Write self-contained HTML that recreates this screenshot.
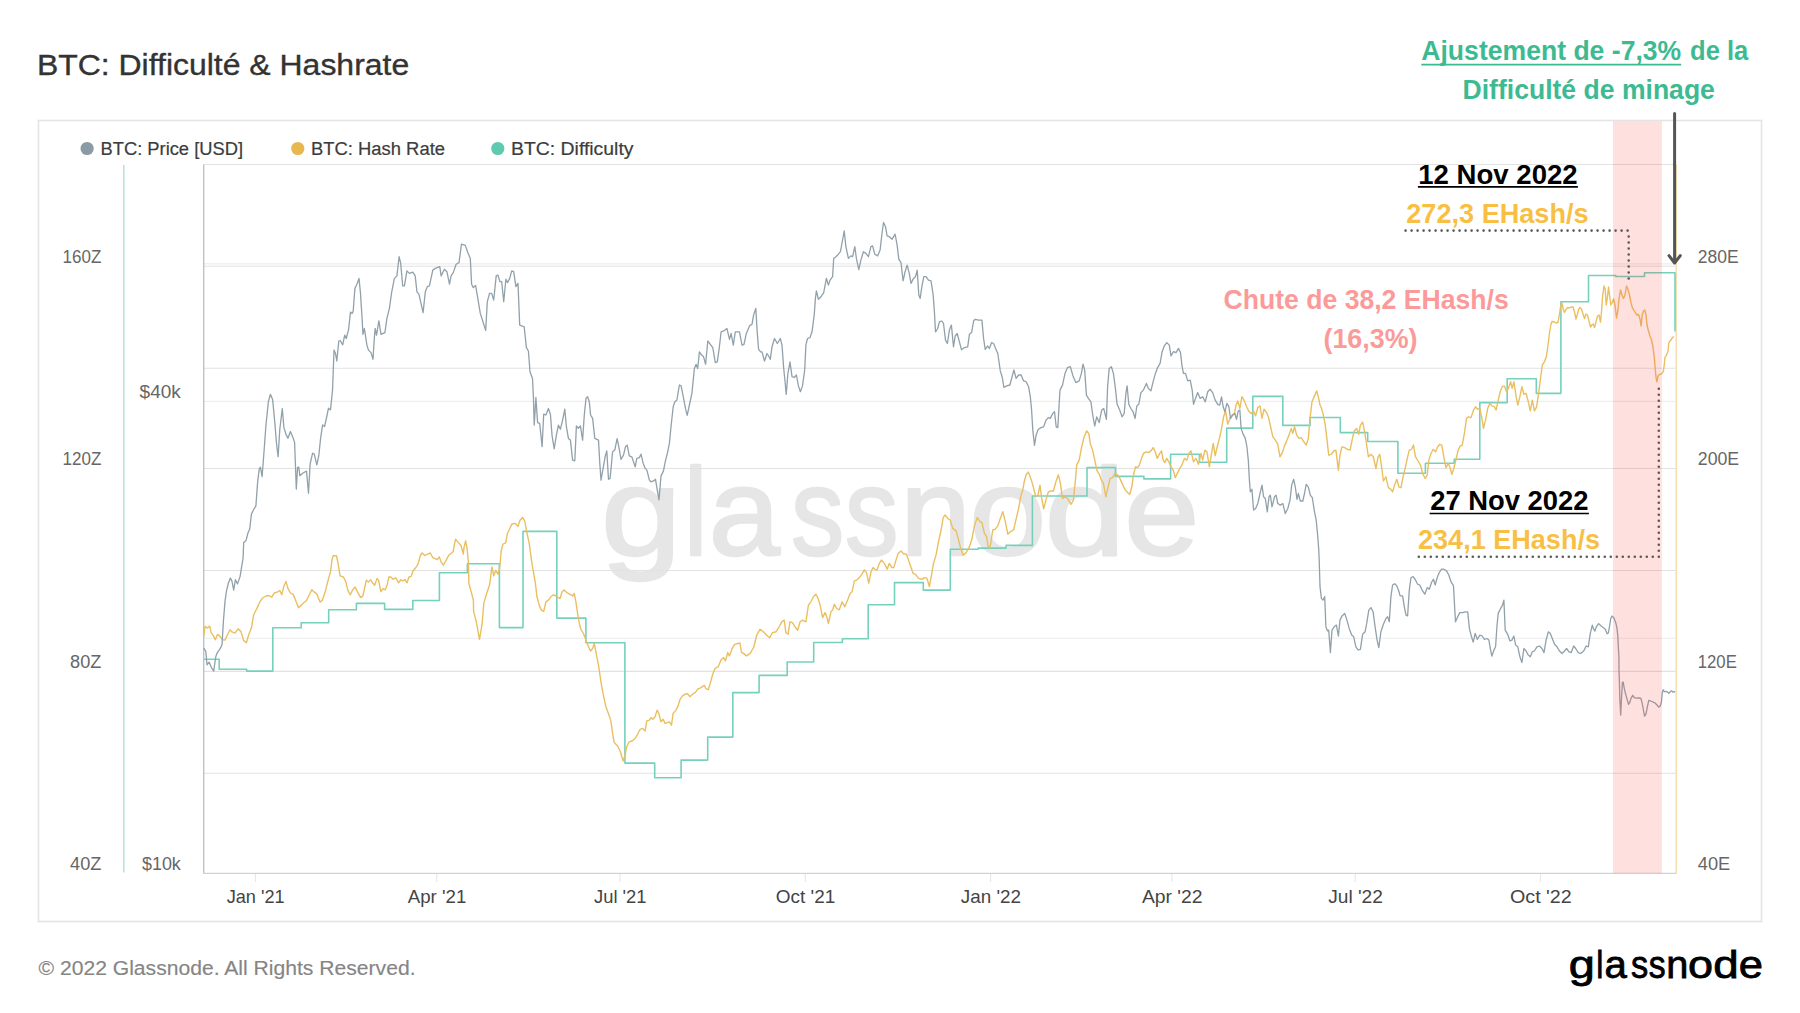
<!DOCTYPE html>
<html lang="fr"><head><meta charset="utf-8"><title>BTC: Difficulté &amp; Hashrate</title>
<style>html,body{margin:0;padding:0;background:#fff;}body{width:1800px;height:1013px;overflow:hidden;font-family:"Liberation Sans",sans-serif;}svg{display:block;}text{font-family:"Liberation Sans",sans-serif;}</style>
</head><body>
<svg width="1800" height="1013" viewBox="0 0 1800 1013">
<rect x="0" y="0" width="1800" height="1013" fill="#fff"/>
<rect x="38.5" y="120.5" width="1723" height="801" fill="none" stroke="#e4e4e4" stroke-width="1.6"/>
<text aria-label="glassnode" y="555" font-size="124" fill="#e6e6e6" stroke="#e6e6e6" stroke-width="2.4" stroke-linejoin="round"><tspan x="600.92" textLength="80.40" lengthAdjust="spacingAndGlyphs">g</tspan><tspan x="683.90" textLength="23.33" lengthAdjust="spacingAndGlyphs">l</tspan><tspan x="708.88" textLength="71.12" lengthAdjust="spacingAndGlyphs">a</tspan><tspan x="791.07" textLength="53.22" lengthAdjust="spacingAndGlyphs">s</tspan><tspan x="844.75" textLength="53.78" lengthAdjust="spacingAndGlyphs">s</tspan><tspan x="900.29" textLength="70.53" lengthAdjust="spacingAndGlyphs">n</tspan><tspan x="969.16" textLength="77.05" lengthAdjust="spacingAndGlyphs">o</tspan><tspan x="1044.72" textLength="80.40" lengthAdjust="spacingAndGlyphs">d</tspan><tspan x="1124.30" textLength="75.08" lengthAdjust="spacingAndGlyphs">e</tspan></text>
<line x1="203.5" y1="164.5" x2="1675.5" y2="164.5" stroke="#e2e2e2" stroke-width="1.1"/>
<line x1="203.5" y1="266.3" x2="1675.5" y2="266.3" stroke="#e2e2e2" stroke-width="1.1"/>
<line x1="203.5" y1="368.2" x2="1675.5" y2="368.2" stroke="#e2e2e2" stroke-width="1.1"/>
<line x1="203.5" y1="468.5" x2="1675.5" y2="468.5" stroke="#e2e2e2" stroke-width="1.1"/>
<line x1="203.5" y1="570.5" x2="1675.5" y2="570.5" stroke="#e2e2e2" stroke-width="1.1"/>
<line x1="203.5" y1="671.4" x2="1675.5" y2="671.4" stroke="#e2e2e2" stroke-width="1.1"/>
<line x1="203.5" y1="773.3" x2="1675.5" y2="773.3" stroke="#e2e2e2" stroke-width="1.1"/>
<line x1="203.5" y1="263.9" x2="1675.5" y2="263.9" stroke="#ededed" stroke-width="1.1"/>
<line x1="203.5" y1="401.4" x2="1675.5" y2="401.4" stroke="#ededed" stroke-width="1.1"/>
<line x1="203.5" y1="638.3" x2="1675.5" y2="638.3" stroke="#ededed" stroke-width="1.1"/>
<line x1="255.4" y1="873" x2="255.4" y2="882" stroke="#e6e6e6" stroke-width="1.1"/>
<line x1="436.7" y1="873" x2="436.7" y2="882" stroke="#e6e6e6" stroke-width="1.1"/>
<line x1="620.0" y1="873" x2="620.0" y2="882" stroke="#e6e6e6" stroke-width="1.1"/>
<line x1="805.3" y1="873" x2="805.3" y2="882" stroke="#e6e6e6" stroke-width="1.1"/>
<line x1="990.6" y1="873" x2="990.6" y2="882" stroke="#e6e6e6" stroke-width="1.1"/>
<line x1="1171.9" y1="873" x2="1171.9" y2="882" stroke="#e6e6e6" stroke-width="1.1"/>
<line x1="1355.2" y1="873" x2="1355.2" y2="882" stroke="#e6e6e6" stroke-width="1.1"/>
<line x1="1540.5" y1="873" x2="1540.5" y2="882" stroke="#e6e6e6" stroke-width="1.1"/>
<line x1="123.8" y1="165" x2="123.8" y2="872.6" stroke="#a9e2d6" stroke-width="1.4"/>
<line x1="203.7" y1="164.5" x2="203.7" y2="873.4" stroke="#b9c3c9" stroke-width="1.4"/>
<line x1="203" y1="873.3" x2="1676.5" y2="873.3" stroke="#cfd3d6" stroke-width="1.3"/>
<line x1="1676.2" y1="164.5" x2="1676.2" y2="873.4" stroke="#f4dba6" stroke-width="1.4"/>
<path d="M203.7,659.3 H219.2 V669.3 H246.7 V671.1 H272.8 V627.8 H301.2 V622.7 H328.7 V609.7 H356.4 V603.4 H384.6 V609.4 H412.8 V600.5 H439.4 V572.7 H467.4 V563.8 H499.4 V627.6 H523.0 V531.4 H556.8 V618.1 H585.9 V642.7 H624.9 V763.1 H654.7 V777.7 H681.1 V760.1 H707.7 V737.1 H732.8 V692.6 H759.1 V675.4 H787.2 V662.0 H813.7 V642.5 H842.4 V638.8 H868.2 V604.8 H894.5 V582.6 H923.3 V590.1 H950.3 V549.2 H978.2 V548.1 H1006.1 V545.4 H1032.4 V496.0 H1087.0 V467.6 H1115.5 V476.4 H1143.9 V478.9 H1170.6 V454.2 H1199.4 V462.3 H1226.7 V428.1 H1252.8 V396.4 H1282.8 V425.4 H1310.1 V417.5 H1340.3 V432.6 H1367.7 V441.5 H1397.9 V473.2 H1425.4 V463.2 H1454.2 V459.3 H1479.8 V402.6 H1507.2 V378.7 H1536.3 V393.4 H1560.9 V301.8 H1588.5 V275.5 H1615.8 V276.5 H1644.5 V272.8 H1675 V331.5" fill="none" stroke="#76d1bc" stroke-width="1.6" stroke-linejoin="round"/>
<path d="M203.7,636.4 L205.0,626.4 L207.5,628.1 L209.7,626.1 L211.3,633.1 L213.3,635.6 L215.3,639.8 L217.5,634.4 L220.0,636.4 L222.5,639.8 L225.0,640.1 L227.5,634.8 L230.0,629.8 L232.5,632.2 L235.0,633.1 L238.0,628.9 L240.9,631.4 L243.7,640.6 L246.4,642.8 L248.7,634.8 L251.4,628.1 L253.7,614.7 L256.7,608.9 L259.7,602.2 L262.6,598.0 L265.9,596.0 L268.8,595.5 L271.8,597.2 L274.2,593.0 L277.1,592.2 L279.8,590.5 L281.8,594.7 L283.8,586.4 L285.9,581.4 L288.1,588.9 L290.4,593.0 L293.1,594.4 L295.4,599.7 L298.4,607.7 L300.9,605.6 L303.4,603.0 L306.5,600.5 L309.3,594.7 L311.8,589.7 L314.3,592.2 L316.8,593.9 L320.0,602.1 L322.2,600.4 L325.0,592.6 L327.8,581.4 L330.6,571.4 L332.1,559.1 L333.2,555.8 L336.5,555.8 L337.9,562.5 L340.1,575.9 L343.4,577.0 L345.7,581.4 L347.9,590.4 L350.3,594.8 L352.4,590.4 L355.1,587.0 L357.9,592.6 L360.7,597.6 L362.9,595.9 L364.6,588.1 L366.3,580.3 L368.5,582.0 L370.8,579.8 L372.4,582.5 L374.7,585.3 L376.9,578.6 L378.6,580.3 L380.8,591.5 L383.0,588.7 L385.2,589.8 L386.9,585.9 L388.9,577.0 L390.8,577.0 L393.1,579.2 L395.9,577.9 L398.6,582.8 L400.9,579.8 L403.1,580.9 L404.8,579.4 L407.0,582.8 L409.0,577.0 L411.2,576.4 L413.1,570.8 L415.9,567.5 L418.2,563.6 L420.4,555.2 L422.1,553.0 L424.9,555.5 L427.6,554.1 L430.4,553.0 L432.7,557.5 L434.9,558.6 L437.1,559.7 L439.4,556.9 L441.0,561.9 L443.3,565.2 L445.5,561.4 L448.8,555.2 L451.6,553.0 L453.3,551.3 L454.4,544.6 L455.5,539.3 L458.3,542.4 L461.1,545.7 L463.3,554.1 L464.1,546.9 L465.6,541.0 L467.0,548.0 L468.4,562.5 L468.9,583.7 L471.1,591.5 L473.4,600.4 L473.6,611.4 L476.2,621.4 L479.5,639.4 L482.0,624.7 L483.7,604.7 L484.0,602.6 L486.2,594.8 L489.6,584.8 L491.2,572.5 L492.0,566.9 L493.8,575.9 L495.7,570.3 L497.9,574.2 L499.8,566.9 L501.3,550.2 L502.9,544.1 L505.7,542.9 L507.4,533.5 L509.6,529.0 L511.9,524.0 L515.2,523.4 L518.0,526.2 L520.0,520.1 L520.4,520.0 L522.5,517.5 L524.7,520.9 L526.7,531.7 L529.2,543.4 L531.7,561.7 L533.7,573.4 L535.4,583.4 L537.0,596.8 L539.2,605.1 L541.4,610.1 L543.7,611.5 L545.9,601.8 L548.4,600.1 L550.9,596.8 L553.4,594.8 L555.9,596.0 L558.4,597.6 L560.1,598.5 L562.1,591.8 L564.2,590.1 L566.8,592.6 L570.1,594.3 L572.6,596.0 L574.3,593.4 L575.9,601.8 L577.6,613.5 L579.3,623.5 L580.9,629.3 L583.4,633.5 L586.0,640.2 L588.5,646.8 L590.5,651.0 L592.6,648.5 L594.3,643.5 L596.5,655.2 L598.5,665.2 L600.9,681.7 L603.0,693.4 L605.9,706.7 L608.4,713.4 L610.9,720.9 L612.6,733.4 L614.2,742.6 L617.6,746.0 L620.1,751.0 L623.1,761.0 L625.1,755.1 L626.7,746.8 L629.2,741.8 L632.1,741.0 L635.1,738.5 L637.6,734.3 L640.1,729.3 L642.6,728.4 L645.1,730.9 L646.8,720.9 L649.3,720.1 L650.9,717.6 L652.6,719.3 L655.1,716.8 L657.1,710.1 L658.8,713.4 L661.0,721.8 L663.1,719.3 L665.1,723.4 L667.6,722.6 L669.3,721.8 L671.5,725.1 L673.1,713.4 L676.0,710.1 L678.1,705.9 L680.1,699.2 L682.6,695.9 L685.1,694.2 L687.6,693.7 L689.8,696.7 L692.6,694.2 L695.2,692.6 L697.7,689.2 L701.0,687.6 L704.3,685.4 L706.0,688.7 L708.2,689.7 L710.2,683.4 L712.7,674.2 L715.2,668.4 L718.2,666.7 L721.0,660.0 L723.5,657.5 L725.5,660.9 L727.7,652.5 L729.4,655.9 L731.9,649.2 L734.4,644.7 L736.9,643.7 L739.9,643.0 L741.5,652.5 L743.5,653.4 L746.5,655.9 L750.2,653.4 L753.6,647.5 L755.6,640.0 L756.7,635.2 L760.0,629.3 L763.4,631.8 L766.7,635.2 L769.7,637.7 L772.5,632.7 L775.9,631.8 L779.2,626.8 L781.7,621.8 L784.2,620.1 L785.9,632.7 L788.0,634.3 L790.0,621.8 L792.5,622.6 L795.0,626.8 L797.6,630.2 L800.1,621.8 L802.6,620.1 L805.9,621.8 L808.4,605.1 L810.9,601.8 L813.4,596.8 L815.9,594.3 L818.1,598.5 L820.1,605.1 L822.6,617.6 L825.1,612.6 L826.8,616.8 L828.4,623.5 L830.9,611.8 L832.6,610.1 L834.3,604.3 L836.8,608.5 L839.3,609.8 L842.1,601.8 L844.8,606.8 L847.6,600.1 L850.1,593.5 L852.1,591.8 L854.3,580.9 L856.8,580.1 L859.3,577.6 L861.8,574.3 L864.3,569.8 L866.5,572.6 L868.8,583.1 L871.0,571.8 L873.1,567.6 L875.1,569.3 L877.1,570.1 L879.3,563.4 L881.5,560.1 L884.3,563.4 L887.2,569.3 L889.3,563.4 L891.8,567.6 L893.8,567.6 L896.0,560.1 L898.2,553.4 L901.0,550.9 L903.5,553.7 L906.5,554.2 L908.5,560.1 L910.5,565.9 L913.2,573.4 L915.5,574.3 L918.5,578.4 L921.9,579.3 L924.4,577.6 L926.9,578.1 L929.4,586.5 L931.5,575.1 L933.5,563.4 L936.0,555.1 L938.5,541.7 L941.1,530.0 L943.2,517.5 L945.2,515.0 L947.7,518.4 L950.2,520.0 L952.7,528.4 L956.1,530.9 L958.6,540.1 L960.6,548.4 L963.2,555.1 L966.1,552.6 L969.4,546.7 L971.9,539.2 L974.4,525.9 L977.3,517.5 L979.9,521.7 L981.9,522.5 L984.4,533.4 L986.6,536.7 L988.3,547.6 L990.3,545.9 L992.8,530.0 L995.3,529.2 L997.8,525.9 L1000.3,518.4 L1002.8,511.7 L1005.3,521.7 L1007.8,534.2 L1010.3,531.7 L1013.6,530.0 L1016.1,519.2 L1018.6,508.4 L1021.1,495.0 L1022.8,490.0 L1024.2,481.8 L1026.3,474.3 L1028.3,472.1 L1030.8,478.4 L1033.3,486.8 L1035.8,496.8 L1038.0,495.1 L1040.0,485.1 L1041.7,498.5 L1043.7,508.8 L1045.9,500.1 L1048.4,491.8 L1050.9,491.0 L1053.4,491.0 L1055.9,481.8 L1058.4,474.8 L1060.4,483.4 L1062.5,498.5 L1065.0,496.8 L1067.6,498.5 L1070.9,504.3 L1073.4,500.1 L1075.4,480.1 L1076.7,465.1 L1079.2,460.1 L1081.7,446.7 L1084.2,436.7 L1086.7,430.9 L1088.8,433.4 L1090.4,444.2 L1092.6,450.1 L1094.8,460.1 L1096.8,470.1 L1099.3,474.3 L1101.4,480.1 L1103.4,483.4 L1105.9,496.8 L1108.1,486.8 L1110.1,478.4 L1112.6,477.6 L1114.8,473.4 L1117.1,474.3 L1119.8,478.4 L1122.1,483.4 L1124.8,489.3 L1127.6,492.6 L1129.8,494.3 L1131.8,486.8 L1133.5,475.1 L1135.5,466.8 L1137.6,467.6 L1139.3,465.1 L1141.5,458.4 L1143.5,453.4 L1146.0,451.8 L1148.5,452.6 L1151.0,450.9 L1153.2,447.6 L1155.2,451.8 L1157.2,458.4 L1159.8,453.4 L1161.5,450.9 L1163.2,460.1 L1164.8,462.6 L1166.8,458.4 L1168.8,461.8 L1171.0,466.8 L1173.2,470.1 L1175.2,477.6 L1177.7,472.6 L1179.8,468.4 L1181.9,465.1 L1184.4,458.4 L1186.9,460.1 L1188.9,453.4 L1191.0,450.9 L1193.5,461.8 L1196.0,458.4 L1198.5,464.3 L1201.0,453.4 L1202.7,460.1 L1204.9,450.1 L1206.9,451.8 L1209.4,466.8 L1211.6,453.4 L1213.2,443.4 L1215.2,455.9 L1217.2,446.7 L1219.4,438.4 L1221.6,428.4 L1223.6,416.7 L1225.6,410.9 L1227.7,424.2 L1229.9,418.4 L1231.9,415.0 L1234.4,413.4 L1236.1,405.0 L1237.8,400.9 L1239.9,408.4 L1241.9,396.7 L1244.4,400.9 L1246.6,406.7 L1248.6,410.9 L1251.1,413.4 L1253.6,410.9 L1255.6,415.9 L1257.8,407.5 L1260.0,405.9 L1262.0,418.4 L1264.0,409.2 L1266.6,412.5 L1268.6,417.5 L1270.6,426.7 L1272.8,436.7 L1275.3,440.1 L1277.8,444.2 L1280.0,456.8 L1282.3,452.6 L1284.5,445.9 L1287.0,440.1 L1289.0,435.1 L1291.2,428.4 L1292.8,433.4 L1294.5,426.7 L1296.7,435.1 L1299.0,438.4 L1301.2,437.6 L1303.7,441.7 L1306.2,445.1 L1308.3,438.4 L1310.0,418.4 L1312.0,401.7 L1314.5,395.9 L1316.7,390.9 L1318.7,398.4 L1320.0,405.0 L1320.9,406.8 L1323.0,413.4 L1325.0,423.4 L1326.7,436.8 L1328.7,455.1 L1331.4,454.3 L1333.7,451.0 L1335.9,450.1 L1338.4,470.2 L1340.0,455.1 L1342.0,446.8 L1344.7,447.6 L1347.6,449.3 L1350.1,450.1 L1352.1,440.1 L1354.2,430.9 L1356.7,428.4 L1358.7,434.3 L1360.4,425.1 L1362.6,422.1 L1364.7,431.8 L1366.4,443.5 L1368.4,456.8 L1370.9,454.3 L1373.4,456.8 L1375.9,468.5 L1378.1,456.8 L1379.8,454.3 L1381.8,468.5 L1383.4,481.0 L1385.9,476.8 L1388.4,487.7 L1390.9,489.4 L1392.6,491.9 L1394.8,484.4 L1396.8,479.3 L1398.8,486.9 L1401.0,487.7 L1403.1,476.8 L1405.5,466.8 L1407.6,456.8 L1409.3,450.1 L1411.5,449.3 L1413.5,445.1 L1415.5,456.8 L1418.1,461.0 L1420.5,465.2 L1422.6,473.5 L1425.2,478.5 L1427.2,475.2 L1428.8,460.1 L1431.0,453.5 L1433.2,449.3 L1435.5,451.8 L1437.7,446.8 L1439.8,444.3 L1441.8,445.1 L1443.8,456.8 L1446.0,467.7 L1448.2,463.5 L1449.8,466.8 L1451.8,474.3 L1453.8,468.5 L1456.0,459.3 L1458.2,450.1 L1460.2,446.0 L1462.2,445.1 L1464.4,433.4 L1466.5,418.4 L1468.5,416.8 L1471.0,417.6 L1473.5,410.1 L1475.5,406.8 L1477.7,409.3 L1479.9,408.4 L1481.9,418.4 L1483.5,428.4 L1485.5,420.1 L1487.7,408.4 L1489.9,403.4 L1491.9,405.9 L1494.4,406.8 L1496.1,410.1 L1498.2,400.1 L1500.2,391.7 L1502.2,386.7 L1504.4,385.9 L1506.6,391.7 L1508.6,387.6 L1510.6,381.7 L1512.2,388.4 L1513.9,381.7 L1516.1,396.7 L1517.8,405.1 L1519.9,396.7 L1521.9,386.7 L1523.9,394.2 L1526.1,393.4 L1528.3,401.8 L1530.3,410.9 L1532.3,400.1 L1534.4,410.9 L1536.6,406.8 L1538.6,393.4 L1540.3,380.1 L1542.3,365.0 L1544.5,361.7 L1546.5,356.0 L1548.0,345.0 L1549.5,333.0 L1550.8,325.0 L1552.0,321.5 L1554.0,321.8 L1556.0,323.0 L1558.0,322.5 L1559.5,314.0 L1560.5,307.0 L1562.0,303.0 L1563.2,309.0 L1564.5,312.5 L1566.0,309.5 L1567.8,307.5 L1569.5,308.0 L1571.2,307.0 L1573.0,307.0 L1574.5,312.0 L1576.0,319.0 L1577.2,315.0 L1578.5,309.5 L1580.0,307.5 L1581.5,309.0 L1583.0,314.0 L1584.5,318.5 L1586.0,314.0 L1587.5,315.0 L1589.0,321.0 L1590.5,327.0 L1591.8,325.0 L1593.2,324.0 L1594.5,327.5 L1596.0,322.0 L1597.5,316.0 L1599.0,315.0 L1600.5,322.0 L1601.5,312.0 L1602.5,297.0 L1604.0,286.0 L1605.2,289.0 L1606.2,305.0 L1607.5,297.0 L1608.5,287.0 L1609.8,297.0 L1610.8,305.0 L1612.0,303.0 L1613.5,299.0 L1615.0,305.0 L1616.5,318.0 L1617.8,311.0 L1619.0,299.0 L1620.5,290.0 L1622.0,295.0 L1623.5,298.5 L1625.0,295.0 L1626.5,286.0 L1628.0,289.5 L1629.5,295.0 L1631.0,303.0 L1632.5,308.0 L1634.0,310.5 L1635.5,313.0 L1637.0,315.0 L1638.5,314.5 L1640.0,319.0 L1641.0,326.0 L1642.2,315.0 L1643.5,311.0 L1644.8,310.0 L1646.0,315.0 L1647.0,325.0 L1648.5,331.0 L1650.0,336.0 L1651.5,340.0 L1653.0,347.0 L1653.2,349.0 L1654.4,358.4 L1655.2,368.5 L1656.1,377.9 L1656.9,381.8 L1657.9,376.3 L1659.5,374.4 L1661.4,374.0 L1663.3,371.6 L1664.4,363.8 L1664.9,357.6 L1666.5,355.2 L1668.0,351.3 L1668.8,342.8 L1670.8,340.0 L1672.7,337.3 L1673.9,336.5" fill="none" stroke="#eabf60" stroke-width="1.4" stroke-linejoin="round"/>
<path d="M203.7,648.1 L205.8,651.4 L207.0,664.8 L209.2,662.3 L211.3,667.3 L213.7,671.1 L215.8,656.5 L217.5,652.3 L220.0,648.9 L222.0,644.8 L223.4,621.4 L225.0,601.4 L226.4,591.4 L228.4,583.0 L230.4,578.0 L232.0,581.4 L233.7,590.0 L235.4,579.7 L237.5,583.9 L240.1,576.4 L241.7,566.3 L243.1,558.0 L243.7,542.5 L245.9,540.8 L248.1,532.5 L249.7,529.2 L251.4,514.1 L253.4,510.0 L255.9,505.8 L257.6,482.4 L259.2,469.1 L260.4,467.1 L262.1,476.6 L263.7,455.7 L265.9,425.7 L268.4,401.5 L270.4,394.3 L272.6,399.4 L274.8,422.4 L276.4,442.4 L278.1,456.6 L279.8,429.1 L282.3,408.7 L283.9,427.4 L285.9,434.1 L287.9,438.2 L290.4,431.6 L292.9,437.4 L294.6,442.4 L295.4,464.1 L296.3,489.1 L297.6,467.4 L298.8,467.1 L299.8,475.8 L302.6,473.3 L306.5,471.1 L308.5,493.3 L310.1,464.1 L312.6,453.2 L314.3,454.1 L316.8,464.9 L318.8,455.7 L320.5,439.1 L322.6,424.9 L324.6,426.5 L326.8,416.5 L328.5,408.2 L330.5,409.9 L331.8,397.3 L332.6,389.0 L334.0,350.1 L335.5,353.5 L336.8,361.0 L338.8,341.0 L340.2,340.5 L342.7,344.8 L344.7,335.1 L346.3,338.5 L347.5,333.5 L348.5,330.1 L350.5,312.1 L352.2,313.4 L353.2,310.9 L354.9,288.4 L356.9,284.2 L359.0,278.4 L360.5,293.4 L362.2,320.1 L362.9,334.3 L364.4,328.5 L366.9,345.1 L368.5,350.1 L371.0,352.6 L373.0,359.3 L374.4,336.8 L375.2,328.5 L376.5,335.1 L378.9,320.9 L381.0,334.3 L384.9,332.6 L386.9,318.4 L389.4,308.4 L391.6,292.6 L394.4,278.4 L396.9,275.9 L399.1,256.7 L400.7,263.4 L402.7,285.9 L404.4,285.9 L406.9,270.9 L409.4,273.4 L412.8,272.1 L415.2,275.9 L416.9,291.8 L418.9,294.2 L423.1,312.6 L425.3,291.8 L427.3,286.7 L429.4,285.9 L432.8,270.1 L435.3,268.4 L439.8,266.7 L441.1,275.9 L444.4,269.2 L446.9,271.7 L449.5,284.2 L451.1,275.9 L453.3,272.6 L456.1,264.2 L459.0,262.6 L461.5,244.2 L465.3,245.4 L467.8,252.5 L470.3,258.4 L471.6,284.2 L473.3,287.6 L475.6,285.4 L477.8,298.4 L480.3,313.4 L485.7,330.5 L487.3,301.8 L489.5,293.4 L491.7,293.4 L493.7,300.1 L496.2,275.9 L497.9,275.1 L500.0,281.7 L501.7,281.7 L503.7,301.8 L505.9,279.2 L507.5,282.6 L509.7,278.4 L511.7,270.9 L513.7,271.7 L515.9,286.7 L518.0,283.4 L519.7,325.1 L521.7,325.9 L524.2,326.8 L526.4,347.6 L528.4,351.0 L530.0,371.8 L532.5,378.5 L533.4,396.7 L534.2,425.1 L535.9,397.5 L537.6,422.6 L539.7,423.4 L542.1,446.7 L543.7,414.2 L545.9,415.0 L548.4,408.4 L550.4,414.2 L552.1,435.9 L554.2,448.8 L556.4,435.1 L558.4,425.1 L560.4,429.2 L562.6,420.1 L564.8,409.2 L566.4,426.7 L568.4,438.4 L570.4,440.1 L572.6,460.1 L574.8,460.9 L576.4,425.9 L578.4,428.4 L580.4,425.9 L582.6,440.1 L584.3,415.0 L586.0,398.4 L587.6,396.7 L589.3,401.7 L590.6,415.0 L592.6,418.4 L594.8,438.4 L598.5,440.1 L599.8,463.4 L601.0,480.1 L603.1,468.4 L605.1,456.8 L606.8,450.9 L608.5,479.3 L610.1,478.4 L612.6,451.8 L614.8,450.1 L617.1,438.7 L618.8,446.7 L621.0,459.3 L623.5,455.1 L625.5,446.7 L627.2,445.1 L629.3,455.9 L631.8,456.8 L635.2,466.8 L636.8,458.4 L639.3,457.6 L641.0,454.2 L643.2,463.4 L645.2,468.4 L646.9,470.1 L649.4,480.1 L651.0,481.8 L653.5,480.9 L655.5,479.3 L657.4,491.0 L659.0,499.8 L661.0,475.9 L663.5,470.9 L665.2,461.8 L667.7,451.8 L669.4,443.4 L671.0,426.7 L673.2,406.7 L674.9,401.7 L676.9,400.0 L679.4,385.0 L681.1,385.8 L683.6,398.4 L685.6,409.2 L687.2,415.4 L689.4,405.0 L691.9,393.4 L694.4,368.5 L696.1,364.3 L697.7,368.5 L699.4,351.8 L701.6,355.1 L703.6,356.8 L705.6,364.3 L707.8,341.0 L710.3,344.3 L712.8,347.6 L715.3,362.6 L717.3,361.8 L719.4,346.8 L721.1,331.8 L723.6,330.9 L726.9,328.4 L729.5,339.3 L731.1,333.4 L733.3,345.1 L735.3,331.8 L739.5,331.8 L742.0,345.1 L744.0,344.3 L746.1,334.3 L749.5,325.9 L752.0,324.3 L753.6,315.1 L755.8,308.4 L757.3,333.4 L758.6,349.3 L760.6,351.8 L762.0,351.8 L764.5,361.0 L767.0,353.5 L768.7,356.0 L770.3,359.3 L772.0,346.8 L774.5,338.5 L777.3,343.5 L780.3,338.5 L782.0,345.1 L783.7,368.5 L785.0,381.0 L786.2,394.4 L787.9,373.5 L790.0,361.8 L792.0,376.7 L794.2,377.5 L796.4,375.0 L798.4,385.9 L800.4,391.7 L802.5,385.9 L804.7,370.0 L805.9,345.1 L807.5,338.5 L810.0,337.6 L812.0,331.8 L814.2,315.1 L815.4,298.4 L816.4,290.9 L818.4,299.3 L820.9,296.8 L823.7,292.6 L826.4,278.4 L828.4,285.1 L830.1,280.1 L832.6,276.7 L833.7,258.4 L835.9,256.7 L838.4,254.2 L840.4,251.7 L842.6,240.0 L844.2,230.8 L845.9,246.7 L848.4,258.4 L850.9,255.9 L852.6,256.7 L854.8,246.7 L856.4,258.4 L858.8,269.7 L860.9,260.1 L863.4,251.7 L865.9,253.4 L868.4,256.7 L870.9,246.7 L872.6,245.9 L874.8,254.2 L877.6,255.9 L880.1,250.0 L881.8,235.0 L883.5,222.5 L885.5,226.7 L887.1,235.9 L889.3,236.7 L892.1,239.2 L895.1,234.2 L897.1,245.0 L898.8,259.2 L901.0,262.6 L903.1,280.9 L905.1,271.7 L907.1,265.1 L909.3,273.4 L911.0,283.4 L913.5,278.4 L915.5,276.7 L917.2,270.1 L918.8,295.1 L920.2,298.4 L921.8,286.8 L923.8,276.7 L926.0,276.7 L928.5,280.1 L931.0,280.9 L933.2,295.1 L934.4,311.8 L935.5,331.8 L937.7,328.5 L939.4,321.8 L941.9,321.0 L943.5,323.5 L945.5,340.1 L947.4,343.5 L949.4,330.1 L951.4,325.1 L953.5,346.8 L955.2,336.0 L957.2,333.5 L959.4,341.8 L961.5,349.8 L964.4,347.6 L967.7,346.8 L969.4,334.3 L971.6,332.6 L973.6,321.0 L975.2,319.3 L978.6,320.1 L981.9,320.1 L983.6,338.5 L985.2,349.3 L987.7,346.0 L989.4,348.5 L991.6,342.6 L993.6,343.5 L995.6,348.5 L997.8,353.5 L1000.3,370.9 L1002.3,377.5 L1003.9,387.5 L1006.6,385.9 L1009.9,385.0 L1012.3,375.9 L1013.9,370.0 L1016.1,378.4 L1018.6,375.0 L1021.1,375.0 L1023.6,380.9 L1026.1,381.7 L1028.6,386.7 L1030.3,396.7 L1031.6,410.1 L1032.8,430.1 L1034.5,445.4 L1036.1,435.1 L1038.3,429.3 L1041.1,427.6 L1043.6,426.8 L1046.1,420.1 L1048.3,417.6 L1050.3,418.4 L1052.8,413.4 L1054.5,411.7 L1056.2,426.8 L1057.8,427.6 L1059.0,406.7 L1060.0,390.1 L1062.5,385.1 L1065.0,373.4 L1067.5,367.6 L1070.3,366.7 L1073.0,375.9 L1075.8,382.6 L1079.2,380.9 L1081.4,373.4 L1083.0,364.2 L1084.7,370.1 L1086.4,395.1 L1088.4,398.4 L1090.9,401.8 L1092.5,413.5 L1094.7,426.0 L1096.7,416.8 L1099.2,422.6 L1101.7,410.1 L1103.7,408.5 L1106.4,419.3 L1107.6,386.8 L1109.2,368.4 L1111.4,366.7 L1113.4,373.4 L1115.4,388.4 L1117.1,404.3 L1119.7,410.1 L1122.1,416.8 L1124.2,413.5 L1125.9,393.4 L1127.1,385.9 L1128.8,404.3 L1130.9,408.5 L1133.1,411.8 L1135.1,418.5 L1136.8,406.0 L1138.8,404.3 L1140.9,392.6 L1143.4,390.1 L1146.4,383.4 L1148.4,388.4 L1150.9,390.9 L1153.1,381.8 L1155.4,373.4 L1157.6,367.6 L1160.1,363.4 L1162.1,351.7 L1164.3,345.9 L1166.8,342.6 L1169.3,345.1 L1171.0,355.9 L1173.5,351.7 L1176.0,352.6 L1178.5,348.4 L1180.5,352.6 L1182.1,366.7 L1183.5,373.4 L1185.5,373.4 L1187.7,380.9 L1190.2,380.1 L1192.2,390.1 L1193.5,404.3 L1195.5,398.4 L1197.7,392.6 L1200.2,398.4 L1202.7,396.8 L1205.2,401.8 L1207.7,391.8 L1210.2,389.3 L1212.7,392.6 L1215.2,400.1 L1217.7,404.3 L1219.8,405.1 L1221.5,396.8 L1223.2,406.8 L1224.9,411.8 L1226.9,403.4 L1228.9,406.8 L1230.5,418.5 L1232.7,415.1 L1234.9,413.5 L1236.5,419.3 L1238.2,411.0 L1239.9,410.1 L1239.9,410.9 L1241.1,428.4 L1242.8,433.4 L1245.3,438.4 L1246.9,446.7 L1248.3,460.1 L1249.4,480.1 L1250.3,491.8 L1251.9,489.3 L1253.6,510.1 L1255.6,508.5 L1257.8,503.5 L1260.0,493.5 L1262.0,485.1 L1263.6,496.8 L1265.3,498.5 L1267.3,511.8 L1269.0,496.8 L1270.3,495.1 L1272.0,506.8 L1274.5,496.8 L1276.1,495.1 L1277.8,503.5 L1280.3,505.1 L1282.8,503.5 L1285.3,513.5 L1287.8,508.5 L1290.0,500.1 L1291.7,485.1 L1293.7,479.3 L1295.3,486.8 L1297.0,499.3 L1298.3,493.5 L1300.3,501.0 L1302.8,501.0 L1304.5,493.5 L1306.2,484.3 L1308.3,486.8 L1310.3,495.1 L1312.3,497.6 L1314.5,511.8 L1316.2,520.2 L1317.8,536.9 L1318.7,549.0 L1319.2,560.0 L1320.0,586.7 L1321.4,598.4 L1323.0,600.1 L1324.7,596.7 L1325.9,626.8 L1327.5,630.9 L1328.7,630.1 L1330.4,652.6 L1332.0,630.1 L1334.2,626.8 L1336.4,625.1 L1338.4,636.0 L1340.0,620.1 L1342.0,615.9 L1344.7,613.4 L1346.7,619.3 L1349.2,628.4 L1351.7,635.1 L1353.7,636.8 L1355.9,646.8 L1358.1,649.8 L1360.4,649.3 L1362.6,634.3 L1365.1,631.8 L1366.7,623.4 L1368.8,610.1 L1370.9,607.6 L1373.1,611.8 L1375.1,626.8 L1377.1,640.1 L1378.8,647.6 L1380.9,631.8 L1383.4,624.3 L1385.9,618.4 L1387.6,616.8 L1389.3,621.8 L1390.9,596.7 L1392.6,585.0 L1394.8,583.7 L1396.8,585.9 L1398.8,590.9 L1400.1,595.9 L1402.6,595.9 L1404.3,606.7 L1406.0,615.1 L1407.6,615.9 L1409.3,590.1 L1411.0,577.5 L1413.1,576.7 L1415.5,580.0 L1417.6,584.2 L1419.8,585.0 L1422.1,590.1 L1424.8,594.2 L1427.2,587.6 L1429.3,589.2 L1431.5,582.5 L1433.5,579.2 L1435.2,585.0 L1437.2,577.5 L1439.3,572.5 L1441.5,569.2 L1443.8,569.2 L1446.5,570.9 L1448.8,575.0 L1451.0,581.7 L1453.5,585.9 L1454.8,610.1 L1455.5,621.8 L1457.7,616.8 L1459.8,612.6 L1462.7,612.6 L1465.2,611.8 L1467.7,611.8 L1469.4,628.4 L1471.5,636.8 L1473.2,642.1 L1475.2,633.4 L1477.2,639.3 L1479.9,635.1 L1482.2,636.0 L1484.4,639.3 L1486.9,638.5 L1488.9,640.1 L1490.6,650.1 L1491.9,656.0 L1493.9,650.1 L1495.6,646.8 L1496.9,626.8 L1498.2,613.4 L1500.2,609.2 L1502.2,605.9 L1503.9,600.1 L1505.2,630.1 L1507.7,634.3 L1509.9,641.0 L1511.9,640.1 L1513.9,636.0 L1515.6,645.1 L1517.8,646.8 L1519.9,656.8 L1521.9,662.6 L1523.9,648.5 L1526.1,651.0 L1528.3,655.1 L1530.3,656.8 L1532.3,651.8 L1534.4,651.0 L1536.9,646.8 L1539.5,646.0 L1542.0,648.5 L1544.0,652.6 L1546.1,640.1 L1548.3,631.8 L1550.3,633.4 L1552.3,638.5 L1554.5,644.3 L1557.0,646.8 L1559.5,651.0 L1562.0,653.5 L1564.5,651.0 L1566.6,648.5 L1569.0,651.8 L1571.2,652.6 L1573.7,646.0 L1575.7,648.5 L1578.3,652.6 L1580.7,653.5 L1583.7,651.0 L1586.2,646.0 L1588.3,646.8 L1590.3,633.4 L1592.3,625.1 L1593.3,628.4 L1594.9,631.1 L1596.4,626.7 L1598.7,623.6 L1600.9,625.8 L1603.1,627.6 L1605.3,629.3 L1607.1,633.8 L1608.4,632.9 L1609.8,624.9 L1610.7,618.7 L1612.0,616.0 L1613.8,617.8 L1615.6,622.2 L1616.9,627.6 L1617.8,635.6 L1618.2,644.4 L1618.9,656.9 L1619.0,670.0 L1619.4,681.2 L1619.8,698.1 L1620.7,715.0 L1621.5,698.1 L1622.4,682.4 L1623.2,682.1 L1624.3,688.6 L1626.0,695.3 L1627.4,700.4 L1628.5,704.3 L1629.7,702.6 L1631.1,698.1 L1632.8,695.3 L1634.2,697.6 L1636.2,698.1 L1639.0,698.0 L1640.9,698.4 L1642.3,703.8 L1643.5,710.5 L1644.5,716.1 L1646.0,713.9 L1647.4,706.6 L1648.8,700.4 L1651.9,701.5 L1655.3,703.2 L1657.5,705.5 L1658.7,707.1 L1660.3,706.0 L1661.5,701.5 L1662.3,692.5 L1663.2,689.7 L1664.3,691.7 L1666.0,691.4 L1667.7,692.2 L1668.8,693.4 L1670.5,691.4 L1671.6,690.8 L1673.0,692.2 L1674.4,691.7 L1675.3,692.0" fill="none" stroke="#91a1aa" stroke-width="1.3" stroke-linejoin="round"/>
<rect x="1613" y="121.3" width="48.8" height="752" fill="#f8443a" opacity="0.165"/>
<circle cx="87.1" cy="148.5" r="6.6" fill="#8a9ba5"/>
<circle cx="297.8" cy="148.5" r="6.6" fill="#e7b850"/>
<circle cx="497.8" cy="148.5" r="6.6" fill="#5fcab0"/>
<g font-size="18" fill="#3c3c3c" stroke="#3c3c3c" stroke-width="0.2">
<text x="100.5" y="155" textLength="142.5" lengthAdjust="spacingAndGlyphs">BTC: Price [USD]</text>
<text x="311" y="155" textLength="134" lengthAdjust="spacingAndGlyphs">BTC: Hash Rate</text>
<text x="511" y="155" textLength="122.5" lengthAdjust="spacingAndGlyphs">BTC: Difficulty</text>
</g>
<g font-size="18" fill="#666">
<text x="62.6" y="262.8" textLength="38.8" lengthAdjust="spacingAndGlyphs">160Z</text>
<text x="62.6" y="464.6" textLength="38.8" lengthAdjust="spacingAndGlyphs">120Z</text>
<text x="70.1" y="667.8" textLength="31.3" lengthAdjust="spacingAndGlyphs">80Z</text>
<text x="70.1" y="869.8" textLength="31.3" lengthAdjust="spacingAndGlyphs">40Z</text>
<text x="139.6" y="397.8" textLength="41.2" lengthAdjust="spacingAndGlyphs">$40k</text>
<text x="142.0" y="869.8" textLength="38.8" lengthAdjust="spacingAndGlyphs">$10k</text>
<text x="1697.8" y="262.8" textLength="40.8" lengthAdjust="spacingAndGlyphs">280E</text>
<text x="1697.8" y="464.6" textLength="41.4" lengthAdjust="spacingAndGlyphs">200E</text>
<text x="1697.8" y="667.7" textLength="39.0" lengthAdjust="spacingAndGlyphs">120E</text>
<text x="1697.8" y="869.8" textLength="32.4" lengthAdjust="spacingAndGlyphs">40E</text>
</g>
<g font-size="17.8" fill="#444">
<text x="226.7" y="903" textLength="58" lengthAdjust="spacingAndGlyphs">Jan '21</text>
<text x="407.8" y="903" textLength="58.5" lengthAdjust="spacingAndGlyphs">Apr '21</text>
<text x="594.0" y="903" textLength="52.5" lengthAdjust="spacingAndGlyphs">Jul '21</text>
<text x="775.8" y="903" textLength="59.5" lengthAdjust="spacingAndGlyphs">Oct '21</text>
<text x="960.8" y="903" textLength="60.2" lengthAdjust="spacingAndGlyphs">Jan '22</text>
<text x="1141.9" y="903" textLength="60.7" lengthAdjust="spacingAndGlyphs">Apr '22</text>
<text x="1328.2" y="903" textLength="54.7" lengthAdjust="spacingAndGlyphs">Jul '22</text>
<text x="1510.0" y="903" textLength="61.7" lengthAdjust="spacingAndGlyphs">Oct '22</text>
</g>
<text x="36.9" y="74.5" font-size="29.6" fill="#333" stroke="#333" stroke-width="0.35" textLength="372.3" lengthAdjust="spacingAndGlyphs">BTC: Difficulté &amp; Hashrate</text>
<text x="38.5" y="974.8" font-size="20" fill="#858585" stroke="#858585" stroke-width="0.15" textLength="377" lengthAdjust="spacingAndGlyphs">© 2022 Glassnode. All Rights Reserved.</text>
<text aria-label="glassnode" y="977.6" font-size="38.5" fill="#000" stroke="#000" stroke-width="0.8"><tspan x="1568.82" textLength="26.11" lengthAdjust="spacingAndGlyphs">g</tspan><tspan x="1596.28" textLength="7.11" lengthAdjust="spacingAndGlyphs">l</tspan><tspan x="1604.49" textLength="22.35" lengthAdjust="spacingAndGlyphs">a</tspan><tspan x="1631.01" textLength="17.22" lengthAdjust="spacingAndGlyphs">s</tspan><tspan x="1648.72" textLength="16.89" lengthAdjust="spacingAndGlyphs">s</tspan><tspan x="1666.31" textLength="22.12" lengthAdjust="spacingAndGlyphs">n</tspan><tspan x="1688.10" textLength="25.03" lengthAdjust="spacingAndGlyphs">o</tspan><tspan x="1713.37" textLength="25.51" lengthAdjust="spacingAndGlyphs">d</tspan><tspan x="1738.66" textLength="24.22" lengthAdjust="spacingAndGlyphs">e</tspan></text>
<g font-weight="bold">
<text x="1421.3" y="60.4" font-size="27.4" fill="#3dba91" textLength="259.9" lengthAdjust="spacingAndGlyphs">Ajustement de -7,3%</text>
<text x="1690" y="60.4" font-size="27.4" fill="#3dba91" textLength="58.3" lengthAdjust="spacingAndGlyphs">de la</text>
<line x1="1421.3" y1="64.6" x2="1681.2" y2="64.6" stroke="#3dba91" stroke-width="1.6"/>
<text x="1462.5" y="98.9" font-size="27.4" fill="#3dba91" textLength="252.4" lengthAdjust="spacingAndGlyphs">Difficulté de minage</text>
<text x="1418.3" y="183.6" font-size="27" fill="#000" textLength="159.3" lengthAdjust="spacingAndGlyphs">12 Nov 2022</text>
<line x1="1417.9" y1="186.8" x2="1577.9" y2="186.8" stroke="#000" stroke-width="1.7"/>
<text x="1406.3" y="222.7" font-size="27" fill="#f9bf45" textLength="182.3" lengthAdjust="spacingAndGlyphs">272,3 EHash/s</text>
<text x="1223.5" y="309" font-size="27" fill="#fb9a99" textLength="285.2" lengthAdjust="spacingAndGlyphs">Chute de 38,2 EHash/s</text>
<text x="1323.5" y="348.2" font-size="27" fill="#fb9a99" textLength="94" lengthAdjust="spacingAndGlyphs">(16,3%)</text>
<text x="1430.2" y="510.3" font-size="27" fill="#000" textLength="158.3" lengthAdjust="spacingAndGlyphs">27 Nov 2022</text>
<line x1="1429.6" y1="513.5" x2="1588.9" y2="513.5" stroke="#000" stroke-width="1.7"/>
<text x="1418" y="548.8" font-size="27" fill="#f9bf45" textLength="182" lengthAdjust="spacingAndGlyphs">234,1 EHash/s</text>
</g>
<path d="M1405.6,230.6 H1628.2" fill="none" stroke="#5a5a5a" stroke-width="2.6" stroke-linecap="round" stroke-dasharray="0 6"/>
<path d="M1628.7,236.5 V279" fill="none" stroke="#5a5a5a" stroke-width="2.6" stroke-linecap="round" stroke-dasharray="0 6"/>
<path d="M1418.8,556.7 H1658.8 V388" fill="none" stroke="#5a5a5a" stroke-width="2.6" stroke-linecap="round" stroke-dasharray="0 6"/>
<path d="M1674.6,113.4 V262" fill="none" stroke="#555" stroke-width="3" stroke-linecap="round"/>
<path d="M1669,255.6 L1674.6,263 L1680.3,255.6" fill="none" stroke="#555" stroke-width="3" stroke-linecap="round" stroke-linejoin="round"/>
</svg>
</body></html>
